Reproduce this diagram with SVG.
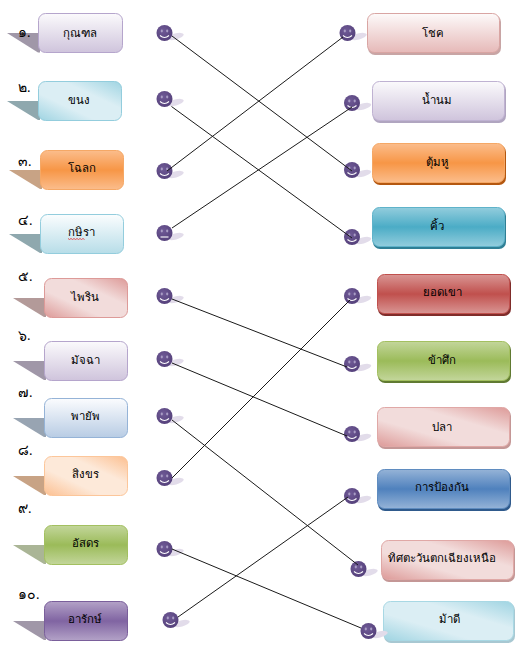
<svg xmlns="http://www.w3.org/2000/svg" width="521" height="649" viewBox="0 0 521 649">
<style>
text{font-family:"Liberation Serif","Noto Sans",serif;font-size:11.4px;fill:#000;text-anchor:middle}
.num{font-size:14px;text-anchor:start}
.box{stroke-width:1}
.conn{stroke:#1a1a1a;stroke-width:1;fill:none}
.sh{fill:#e2dcea}
.face{fill:url(#face)}
.eye{fill:#a89cc4}
.sm{fill:none;stroke:#fff;stroke-width:1.1}
</style>
<defs>
<linearGradient id="lilac" x1="0" y1="0" x2="0" y2="1"><stop offset="0" stop-color="#fbfafc"/><stop offset="1" stop-color="#cfc4dc"/></linearGradient>
<linearGradient id="cyanD" x1="1" y1="0" x2="0" y2="1"><stop offset="0" stop-color="#9fd4e2"/><stop offset=".35" stop-color="#dbeef4"/><stop offset=".65" stop-color="#dbeef4"/><stop offset="1" stop-color="#9fd4e2"/></linearGradient>
<linearGradient id="orange" x1="0" y1="0" x2="0" y2="1"><stop offset="0" stop-color="#fbbd8c"/><stop offset=".5" stop-color="#f79646"/><stop offset="1" stop-color="#fbbd8c"/></linearGradient>
<linearGradient id="cyanL" x1="0" y1="0" x2="0" y2="1"><stop offset="0" stop-color="#fbfdfe"/><stop offset="1" stop-color="#b7dde8"/></linearGradient>
<linearGradient id="redD" x1="1" y1="0" x2="0" y2="1"><stop offset="0" stop-color="#dd9a98"/><stop offset=".35" stop-color="#f2dcdb"/><stop offset=".65" stop-color="#f2dcdb"/><stop offset="1" stop-color="#dd9a98"/></linearGradient>
<linearGradient id="blueL" x1="0" y1="0" x2="0" y2="1"><stop offset="0" stop-color="#fbfcfe"/><stop offset="1" stop-color="#b8cce4"/></linearGradient>
<linearGradient id="orangeD" x1="1" y1="0" x2="0" y2="1"><stop offset="0" stop-color="#fcbf90"/><stop offset=".35" stop-color="#fde9d9"/><stop offset=".65" stop-color="#fde9d9"/><stop offset="1" stop-color="#fcbf90"/></linearGradient>
<linearGradient id="green" x1="0" y1="0" x2="0" y2="1"><stop offset="0" stop-color="#c3d69b"/><stop offset=".5" stop-color="#9bbb59"/><stop offset="1" stop-color="#c3d69b"/></linearGradient>
<linearGradient id="purple" x1="0" y1="0" x2="0" y2="1"><stop offset="0" stop-color="#b3a2c7"/><stop offset=".5" stop-color="#8064a2"/><stop offset="1" stop-color="#b3a2c7"/></linearGradient>
<linearGradient id="redL" x1="0" y1="0" x2="0" y2="1"><stop offset="0" stop-color="#fdfafa"/><stop offset="1" stop-color="#e6b9b8"/></linearGradient>
<linearGradient id="teal" x1="0" y1="0" x2="0" y2="1"><stop offset="0" stop-color="#93cddd"/><stop offset=".5" stop-color="#4bacc6"/><stop offset="1" stop-color="#93cddd"/></linearGradient>
<linearGradient id="red" x1="0" y1="0" x2="0" y2="1"><stop offset="0" stop-color="#d99694"/><stop offset=".5" stop-color="#c0504d"/><stop offset="1" stop-color="#d99694"/></linearGradient>
<linearGradient id="blue" x1="0" y1="0" x2="0" y2="1"><stop offset="0" stop-color="#95b3d7"/><stop offset=".5" stop-color="#4f81bd"/><stop offset="1" stop-color="#95b3d7"/></linearGradient>
<radialGradient id="face" cx=".4" cy=".35" r=".7"><stop offset="0" stop-color="#6f5a96"/><stop offset="1" stop-color="#54407a"/></radialGradient>
<g id="smile"><ellipse class="sh" cx="11" cy="3.500" rx="8.500" ry="3" transform="rotate(-15 11 3.500)"/><circle class="face" r="8"/><ellipse class="eye" cx="-2.700" cy="-2" rx="1.100" ry="1.400"/><ellipse class="eye" cx="2.700" cy="-2" rx="1.100" ry="1.400"/><path class="sm" d="M-4.500 2.500Q0 6.500 4.500 2.500"/></g>
<g id="flat"><ellipse class="sh" cx="11" cy="3.500" rx="8.500" ry="3" transform="rotate(-15 11 3.500)"/><circle class="face" r="8"/><ellipse class="eye" cx="-2.700" cy="-2" rx="1.100" ry="1.400"/><ellipse class="eye" cx="2.700" cy="-2" rx="1.100" ry="1.400"/><path class="sm" d="M-4 4H4"/></g>
</defs>
<rect width="521" height="649" fill="#fff"/>
<g id="left-1"><path d="M7 33H40V52.500H38Z" fill="#a097a8"/><rect class="box" x="38.500" y="13.500" width="84" height="39" rx="7" fill="url(#lilac)" stroke="#b5a5cc"/><text x="80" y="37">กุณฑล</text><text class="num" x="18" y="37">๑.</text></g>
<g id="left-2"><path d="M7 101H40V120H38Z" fill="#8fa8ae"/><rect class="box" x="38.500" y="81.500" width="83" height="39" rx="7" fill="url(#cyanD)" stroke="#93cddd"/><text x="79" y="104">ขนง</text><text class="num" x="18" y="92">๒.</text></g>
<g id="left-3"><path d="M9 170H42V189H40Z" fill="#c8a385"/><rect class="box" x="40.500" y="150.500" width="83" height="39" rx="7" fill="url(#orange)" stroke="#f5a866"/><text x="82" y="172">โฉลก</text><text class="num" x="18" y="166">๓.</text></g>
<g id="left-4"><path d="M9 234H42V253H40Z" fill="#8fa8ae"/><rect class="box" x="40.500" y="214.500" width="83" height="39" rx="7" fill="url(#cyanL)" stroke="#93cddd"/><text x="81" y="236">กษิรา</text><path d="M68 238.500l1.500 1 1.500-1 1.500 1 1.500-1 1.500 1 1.500-1 1.500 1 1.500-1 1.500 1 1.500-1 1.500 1" fill="none" stroke="#e03030" stroke-width=".8"/><text class="num" x="18" y="225">๔.</text></g>
<g id="left-5"><path d="M13 298H46V317H44Z" fill="#b39a99"/><rect class="box" x="44.500" y="278.500" width="83" height="39" rx="7" fill="url(#redD)" stroke="#dd9a98"/><text x="85" y="301">ไพริน</text><text class="num" x="18" y="281">๕.</text></g>
<g id="left-6"><path d="M13 361H46V380H44Z" fill="#a097a8"/><rect class="box" x="44.500" y="341.500" width="83" height="39" rx="7" fill="url(#lilac)" stroke="#b5a5cc"/><text x="85" y="364">มัจฉา</text><text class="num" x="18" y="340">๖.</text></g>
<g id="left-7"><path d="M13 418H46V437H44Z" fill="#98a4b2"/><rect class="box" x="44.500" y="398.500" width="83" height="39" rx="7" fill="url(#blueL)" stroke="#95b3d7"/><text x="85" y="420">พายัพ</text><text class="num" x="18" y="397">๗.</text></g>
<g id="left-8"><path d="M13 476H46V495H44Z" fill="#c8a385"/><rect class="box" x="44.500" y="456.500" width="83" height="39" rx="7" fill="url(#orangeD)" stroke="#fcc69a"/><text x="85" y="478">สิงขร</text><text class="num" x="18" y="455">๘.</text></g>
<g id="left-9"><path d="M13 545H46V564H44Z" fill="#aab596"/><rect class="box" x="44.500" y="525.500" width="83" height="39" rx="7" fill="url(#green)" stroke="#a3c060"/><text x="85" y="547">อัสดร</text><text class="num" x="18" y="513">๙.</text></g>
<g id="left-10"><path d="M13 621H46V640H44Z" fill="#a097a8"/><rect class="box" x="44.500" y="601.500" width="83" height="39" rx="7" fill="url(#purple)" stroke="#7a5f9b"/><text x="85" y="623">อารักษ์</text><text class="num" x="18" y="599">๑๐.</text></g>
<g id="right-1"><rect x="368" y="15" width="133" height="40" rx="7" fill="#c8a5a5"/><rect class="box" x="367.500" y="13.500" width="132" height="39" rx="7" fill="url(#redL)" stroke="#d9a5a3"/><text x="433" y="37">โชค</text></g>
<g id="right-2"><rect x="373" y="83" width="133" height="40" rx="7" fill="#b0a5c0"/><rect class="box" x="372.500" y="81.500" width="132" height="39" rx="7" fill="url(#lilac)" stroke="#bfb2d2"/><text x="437" y="104">น้ำนม</text></g>
<g id="right-3"><rect x="373" y="145" width="133" height="40" rx="7" fill="#b4570f"/><rect class="box" x="372.500" y="143.500" width="132" height="39" rx="7" fill="url(#orange)" stroke="#f5a866"/><text x="437" y="166">ตุ้มหู</text></g>
<g id="right-4"><rect x="373" y="209" width="133" height="40" rx="7" fill="#2f7f95"/><rect class="box" x="372.500" y="207.500" width="132" height="39" rx="7" fill="url(#teal)" stroke="#5fb3ca"/><text x="437" y="230">คิ้ว</text></g>
<g id="right-5"><rect x="378" y="276" width="133" height="40" rx="7" fill="#7f2c2a"/><rect class="box" x="377.500" y="274.500" width="132" height="39" rx="7" fill="url(#red)" stroke="#c0504d"/><text x="442" y="296">ยอดเขา</text></g>
<g id="right-6"><rect x="378" y="343" width="133" height="40" rx="7" fill="#607a32"/><rect class="box" x="377.500" y="341.500" width="132" height="39" rx="7" fill="url(#green)" stroke="#a3c060"/><text x="442" y="364">ข้าศึก</text></g>
<g id="right-7"><rect x="378" y="409" width="133" height="40" rx="7" fill="#c49796"/><rect class="box" x="377.500" y="407.500" width="132" height="39" rx="7" fill="url(#redD)" stroke="#e0a8a6"/><text x="442" y="431">ปลา</text></g>
<g id="right-8"><rect x="378" y="471" width="133" height="40" rx="7" fill="#2f5a8c"/><rect class="box" x="377.500" y="469.500" width="132" height="39" rx="7" fill="url(#blue)" stroke="#5f8cc0"/><text x="442" y="491">การป้องกัน</text></g>
<g id="right-9"><rect x="382" y="542" width="133" height="40" rx="7" fill="#c49796"/><rect class="box" x="381.500" y="540.500" width="132" height="39" rx="7" fill="url(#redD)" stroke="#e0a8a6"/><text x="442" y="562">ทิศตะวันตกเฉียงเหนือ</text></g>
<g id="right-10"><rect x="384" y="603" width="131" height="40" rx="7" fill="#a8c8d2"/><rect class="box" x="383.500" y="601.500" width="130" height="39" rx="7" fill="url(#cyanD)" stroke="#a8d8e4"/><text x="449" y="623">ม้าดี</text></g>
<g id="markers">
<use href="#smile" x="164.500" y="33"/><use href="#smile" x="164.500" y="99"/><use href="#smile" x="164.500" y="171"/><use href="#flat" x="164.500" y="233"/><use href="#smile" x="164.500" y="296"/><use href="#smile" x="164.500" y="359"/><use href="#smile" x="164.500" y="416"/><use href="#smile" x="164.500" y="478"/><use href="#smile" x="164.500" y="549"/><use href="#smile" x="170.500" y="620"/>
<use href="#smile" x="347.500" y="33"/><use href="#smile" x="352" y="103"/><use href="#smile" x="352" y="170"/><use href="#smile" x="352" y="237"/><use href="#smile" x="352" y="296"/><use href="#smile" x="352" y="364"/><use href="#smile" x="352" y="434"/><use href="#smile" x="352" y="496"/><use href="#smile" x="358.500" y="569"/><use href="#smile" x="368.500" y="631"/>
</g>
<g id="connectors">
<path class="conn" d="M172 36L352 171"/>
<path class="conn" d="M171.500 106.500L352 238"/>
<path class="conn" d="M167 171L343 37"/>
<path class="conn" d="M172 228L352 107"/>
<path class="conn" d="M172 299L347 367"/>
<path class="conn" d="M172 363L347 436"/>
<path class="conn" d="M172 420L358 565"/>
<path class="conn" d="M172 478L350 300"/>
<path class="conn" d="M172 549L361 628"/>
<path class="conn" d="M178 617L348 497"/>
</g>
</svg>
